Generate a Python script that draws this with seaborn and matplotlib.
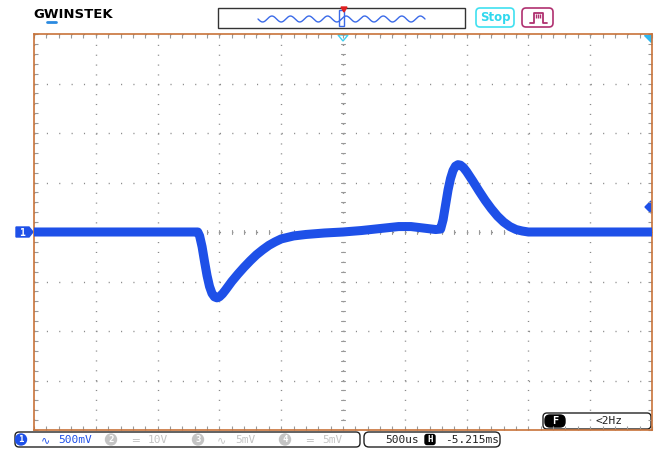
import numpy as np
import pandas as pd
import matplotlib.pyplot as plt
import seaborn as sns
from matplotlib.patches import FancyBboxPatch, Circle, Polygon, Rectangle

# trace, in divisions (500us/div, 500mV/div)
time_div = [-5.0, -2.35, -2.32, -2.28, -2.24, -2.2, -2.16, -2.12, -2.08, -2.04,
            -2.0, -1.95, -1.9, -1.8, -1.7, -1.6, -1.5, -1.4, -1.3, -1.2,
            -1.1, -1.0, -0.8, -0.6, -0.3, 0.0, 0.3, 0.6, 0.9, 1.1,
            1.3, 1.5, 1.58, 1.62, 1.66, 1.7, 1.74, 1.78, 1.82, 1.86,
            1.9, 1.95, 2.0, 2.1, 2.2, 2.3, 2.4, 2.5, 2.6, 2.7,
            2.8, 2.9, 3.0, 5.0]
volt_div = [0.0, 0.0, -0.08, -0.3, -0.6, -0.88, -1.1, -1.24, -1.31, -1.33,
            -1.31, -1.25, -1.17, -1.0, -0.85, -0.71, -0.58, -0.46, -0.36, -0.27,
            -0.2, -0.14, -0.08, -0.05, -0.02, 0.0, 0.03, 0.07, 0.11, 0.11,
            0.08, 0.05, 0.06, 0.25, 0.55, 0.85, 1.08, 1.24, 1.33, 1.36,
            1.35, 1.3, 1.22, 1.03, 0.83, 0.64, 0.47, 0.32, 0.2, 0.11,
            0.05, 0.02, 0.0, 0.0]

# status bar texts
ch_labels = ['500mV', '10V', '5mV', '5mV']
timebase = '500us'
h_pos = '-5.215ms'
trig_freq = '<2Hz'

trace = pd.DataFrame({'t': time_div, 'v': volt_div})

sns.set_style('white')
plt.rcParams['font.family'] = ['DejaVu Sans Mono', 'DejaVu Sans']

blue = '#1e50e8'
border = '#c8733a'
grey = '#c4c4c4'

fig = plt.figure(figsize=(6.58, 4.5), dpi=100)

# background axes in pixel coordinates for the screen furniture
bg = fig.add_axes([0, 0, 1, 1])
bg.set_xlim(0, 658)
bg.set_ylim(450, 0)
bg.axis('off')

# scope grid
ax = fig.add_axes([34 / 658, 1 - 430 / 450, 618 / 658, 396 / 450])
ax.set_facecolor('none')
sns.lineplot(data=trace, x='t', y='v', ax=ax, color=blue, lw=6.5,
             solid_joinstyle='round', zorder=3)
ax.set_xlim(-5, 5)
ax.set_ylim(-4, 4)
ax.set_xlabel('')
ax.set_ylabel('')
ax.set_xticks(np.arange(-5, 6, 1))
ax.set_yticks(np.arange(-4, 5, 1))
ax.set_xticks(np.arange(-5, 5.01, 0.2), minor=True)
ax.set_yticks(np.arange(-4, 4.01, 0.2), minor=True)
ax.tick_params(which='both', direction='in', length=3, color='#999999',
               labelbottom=False, labelleft=False, top=True, right=True,
               bottom=True, left=True, width=0.8)
ax.grid(True, which='major', axis='x', color='#8a8a8a',
        linestyle=(0, (0.8, 6.3)), lw=1)
ax.grid(True, which='major', axis='y', color='#8a8a8a',
        linestyle=(0, (0.8, 8.1)), lw=1)
# centre cross minor ticks
for xm in np.arange(-5, 5.01, 0.2):
    ax.plot([xm, xm], [-0.05, 0.05], color='#999999', lw=0.8, zorder=1)
for ym in np.arange(-4, 4.01, 0.2):
    ax.plot([-0.04, 0.04], [ym, ym], color='#999999', lw=0.8, zorder=1)
for s in ax.spines.values():
    s.set_color(border)
    s.set_linewidth(1.2)

# header
bg.text(33, 15, 'GWINSTEK', fontsize=9.5, fontweight='heavy', color='black',
        va='center', ha='left', family='DejaVu Sans')
bg.plot([47, 56], [22, 22], color='#2a8ae0', lw=2)

bg.add_patch(Rectangle((218, 8), 247, 20, fill=False, ec='#333333', lw=1))
wx = np.linspace(258, 425, 300)
bg.plot(wx, 19 + 3 * np.sin((wx - 258) / 167 * 9 * 2 * np.pi), color='#3a6ae8', lw=1)
bg.add_patch(Rectangle((339, 10), 5, 16, fill=False, ec='#3a6ae8', lw=1))
bg.add_patch(Polygon([[341, 7], [347, 7], [344, 12]], color='#e02020'))

bg.add_patch(FancyBboxPatch((476, 8), 38, 19, boxstyle='round,pad=0,rounding_size=4',
                            fill=False, ec='#40e0f0', lw=1.2))
bg.text(495, 18, 'Stop', color='#30d8ee', fontsize=8.5, fontweight='bold',
        ha='center', va='center', family='DejaVu Sans')
bg.add_patch(FancyBboxPatch((522, 8), 31, 19, boxstyle='round,pad=0,rounding_size=4',
                            fill=False, ec='#b03070', lw=1.2))
bg.plot([530, 534, 534, 543, 543, 547], [23, 23, 13, 13, 23, 23], color='#b03070', lw=1.3)
bg.plot([536, 538, 540], [15.5, 15.5, 15.5], ls='none', marker='|', ms=3, color='#b03070')

# trigger markers
bg.add_patch(Polygon([[338, 35], [348, 35], [343, 41]], fill=False, ec='#40d0f0', lw=1))
bg.add_patch(Polygon([[644, 35], [651, 35], [651, 42]], color='#30b8f0'))
bg.add_patch(Polygon([[651, 201], [651, 213], [645, 207]], color=blue))

# channel 1 ground marker
bg.add_patch(Polygon([[16, 227], [29, 227], [33, 232], [29, 237], [16, 237]], color=blue))
bg.text(22, 232.5, '1', color='white', fontsize=7, fontweight='bold', ha='center', va='center')

# trigger frequency box
bg.add_patch(FancyBboxPatch((543, 413), 108, 16, boxstyle='round,pad=0,rounding_size=4',
                            fc='white', ec='#222222', lw=1, zorder=4))
bg.add_patch(FancyBboxPatch((545, 415), 20, 12, boxstyle='round,pad=0,rounding_size=5',
                            fc='black', ec='black', zorder=5))
bg.text(555, 421.5, 'F', color='white', fontsize=7.5, fontweight='bold',
        ha='center', va='center', zorder=6)
bg.text(609, 421.5, trig_freq, color='#222222', fontsize=8, ha='center', va='center', zorder=6)

# status bar
bg.add_patch(FancyBboxPatch((15, 432), 345, 15, boxstyle='round,pad=0,rounding_size=4',
                            fill=False, ec='#222222', lw=1))
ch_x = [21, 111, 198, 285]
ch_col = [blue, grey, grey, grey]
ch_sym = ['∿', '═', '∿', '═']
for i in range(4):
    bg.add_patch(Circle((ch_x[i], 439.5), 5.5, color=ch_col[i]))
    bg.text(ch_x[i], 440, str(i + 1), color='white', fontsize=6.5, fontweight='bold',
            ha='center', va='center')
    bg.text(ch_x[i] + 24, 440, ch_sym[i], color=ch_col[i], fontsize=8, ha='center', va='center')
    bg.text(ch_x[i] + 37, 440, ch_labels[i], color=ch_col[i], fontsize=8, ha='left', va='center')

bg.add_patch(FancyBboxPatch((364, 432), 136, 15, boxstyle='round,pad=0,rounding_size=5',
                            fill=False, ec='#222222', lw=1))
bg.text(385, 440, timebase, color='#222222', fontsize=8, ha='left', va='center')
bg.add_patch(FancyBboxPatch((425, 434.5), 10, 10, boxstyle='round,pad=0,rounding_size=2',
                            fc='black', ec='black'))
bg.text(430, 440, 'H', color='white', fontsize=6.5, fontweight='bold', ha='center', va='center')
bg.text(445, 440, h_pos, color='#222222', fontsize=8, ha='left', va='center')

fig.savefig('out.png', dpi=100)
